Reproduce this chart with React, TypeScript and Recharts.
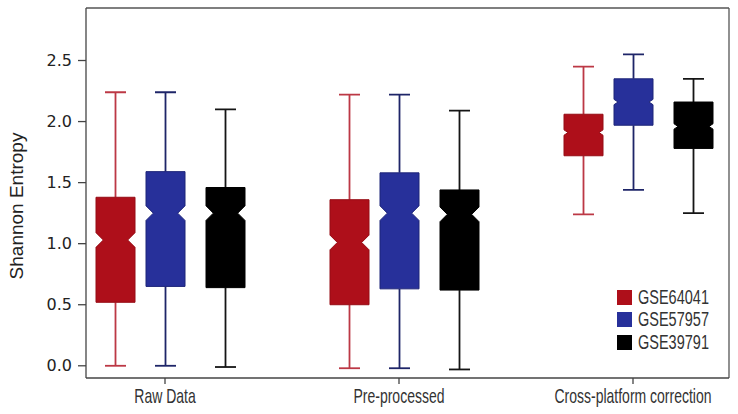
import React from 'react';
import { ComposedChart, Bar, XAxis, YAxis, Legend, CartesianGrid } from 'recharts';

const categories = ['Raw Data', 'Pre-processed', 'Cross-platform correction'];
const seriesNames = ['GSE64041', 'GSE57957', 'GSE39791'];

// box statistics per category (Raw, Pre-processed, Cross-platform)
const gse64041Min = [0.0, -0.02, 1.24];
const gse64041Q1 = [0.52, 0.5, 1.72];
const gse64041Median = [1.03, 1.01, 1.91];
const gse64041Q3 = [1.38, 1.36, 2.06];
const gse64041Max = [2.24, 2.22, 2.45];

const gse57957Min = [0.0, -0.02, 1.44];
const gse57957Q1 = [0.65, 0.63, 1.97];
const gse57957Median = [1.25, 1.25, 2.16];
const gse57957Q3 = [1.59, 1.58, 2.35];
const gse57957Max = [2.24, 2.22, 2.55];

const gse39791Min = [-0.01, -0.03, 1.25];
const gse39791Q1 = [0.64, 0.62, 1.78];
const gse39791Median = [1.25, 1.24, 1.96];
const gse39791Q3 = [1.46, 1.44, 2.16];
const gse39791Max = [2.1, 2.09, 2.35];

// half-height of the median notch
const notchSize = [0.06, 0.06, 0.022];

const yTicks = [0, 0.5, 1, 1.5, 2, 2.5];

const stats = (min: number[], q1: number[], med: number[], q3: number[], max: number[], i: number) => ({
  min: min[i],
  q1: q1[i],
  median: med[i],
  q3: q3[i],
  max: max[i],
  notch: notchSize[i],
});

const data = categories.map((name, i) => ({
  name,
  idx: i,
  s0: stats(gse64041Min, gse64041Q1, gse64041Median, gse64041Q3, gse64041Max, i),
  s1: stats(gse57957Min, gse57957Q1, gse57957Median, gse57957Q3, gse57957Max, i),
  s2: stats(gse39791Min, gse39791Q1, gse39791Median, gse39791Q3, gse39791Max, i),
}));

const series = [
  { key: 's0', fill: '#AE0F1A', stroke: '#960c15', whisker: '#BC3845', shift: 5 },
  { key: 's1', fill: '#27309A', stroke: '#1d2478', whisker: '#1E2568', shift: 0 },
  { key: 's2', fill: '#000000', stroke: '#000000', whisker: '#151515', shift: 5 },
];

const makeBoxShape = (key: string, fill: string, stroke: string, whisker: string, shift: number) =>
  (props: any) => {
    const { x, y, width, height, payload } = props;
    const st = payload[key];
    const toPx = (v: number) => y + ((st.max - v) / (st.max - st.min)) * height;
    const cx = x + width / 2 + shift;
    const half = width / 2;
    const cap = 10.5;
    const yMax = y;
    const yMin = y + height;
    const yQ3 = toPx(st.q3);
    const yQ1 = toPx(st.q1);
    const yMed = toPx(st.median);
    const nTop = toPx(st.median + st.notch);
    const nBot = toPx(st.median - st.notch);
    const depth = Math.max(4, (nBot - nTop) / 2);
    const l = cx - half;
    const r = cx + half;
    const path = `M${l},${yQ3} H${r} V${nTop} L${r - depth},${yMed} L${r},${nBot} V${yQ1} H${l} V${nBot} L${l + depth},${yMed} L${l},${nTop} Z`;
    return (
      <g>
        <line x1={cx} x2={cx} y1={yMax} y2={yQ3} stroke={whisker} strokeWidth={1.8} />
        <line x1={cx} x2={cx} y1={yQ1} y2={yMin} stroke={whisker} strokeWidth={1.8} />
        <line x1={cx - cap} x2={cx + cap} y1={yMax} y2={yMax} stroke={whisker} strokeWidth={1.8} />
        <line x1={cx - cap} x2={cx + cap} y1={yMin} y2={yMin} stroke={whisker} strokeWidth={1.8} />
        <path d={path} fill={fill} stroke={stroke} strokeWidth={1} />
      </g>
    );
  };

const XTick = (props: any) => {
  const { x, y, payload } = props;
  return (
    <text
      x={x}
      y={y}
      dy={11}
      textAnchor="middle"
      fontFamily="'Liberation Sans', Arial, sans-serif"
      fontSize={14}
      fill="#333"
      transform={`translate(${x},${y}) scale(1,1.4) translate(${-x},${-y})`}
    >
      {categories[payload.value]}
    </text>
  );
};

const LegendBox = (props: any) => {
  const items = [...(props.payload || [])].sort(
    (a: any, b: any) => seriesNames.indexOf(a.value) - seriesNames.indexOf(b.value)
  );
  return (
    <div style={{ fontFamily: "'Liberation Sans', Arial, sans-serif" }}>
      {items.map((it: any) => (
        <div key={it.value} style={{ display: 'flex', alignItems: 'center', height: 22.5 }}>
          <span style={{ width: 15, height: 15, background: it.color, display: 'inline-block' }} />
          <span
            style={{
              marginLeft: 6,
              fontSize: 14.5,
              color: '#333',
              display: 'inline-block',
              transform: 'scaleY(1.4)',
              lineHeight: '15px',
            }}
          >
            {it.value}
          </span>
        </div>
      ))}
    </div>
  );
};

export default function App() {
  return (
    <div style={{ position: 'absolute', left: 0, top: 0, background: '#fff' }}>
      <ComposedChart
        width={738}
        height={414}
        data={data}
        margin={{ top: 8, right: 9, bottom: 0, left: 0 }}
        barGap={16}
      >
        {/* top and right edges of the frame */}
        <CartesianGrid
          stroke="#555"
          strokeWidth={1.3}
          horizontalCoordinatesGenerator={({ offset }: any) => [offset.top]}
          verticalCoordinatesGenerator={({ offset }: any) => [offset.left + offset.width]}
        />
        <XAxis
          dataKey="idx"
          type="number"
          domain={[0, 2]}
          ticks={[0, 1, 2]}
          padding={{ left: 79, right: 96 }}
          height={36}
          tickSize={6}
          tickMargin={4}
          tick={<XTick />}
          axisLine={{ stroke: '#444', strokeWidth: 1.3 }}
          tickLine={{ stroke: '#444', strokeWidth: 1.3 }}
        />
        <YAxis
          type="number"
          domain={[-0.1, 2.93]}
          ticks={yTicks}
          width={86}
          tickSize={8}
          tickMargin={6}
          interval={0}
          allowDataOverflow
          tickFormatter={(v: number) => v.toFixed(1)}
          tick={{ fontFamily: "'DejaVu Sans', sans-serif", fontSize: 16, fill: '#222' }}
          axisLine={{ stroke: '#444', strokeWidth: 1.3 }}
          tickLine={{ stroke: '#444', strokeWidth: 1.3 }}
          label={{
            content: () => (
              <text
                x={16}
                y={206}
                transform="rotate(-90 16 206)"
                textAnchor="middle"
                dominantBaseline="central"
                fontFamily="'Liberation Sans', Arial, sans-serif"
                fontSize={19}
                fill="#222"
              >
                Shannon Entropy
              </text>
            ),
          }}
        />
        {series.map((s, i) => (
          <Bar
            key={s.key}
            name={seriesNames[i]}
            dataKey={(d: any) => [d[s.key].min, d[s.key].max]}
            fill={s.fill}
            barSize={39}
            isAnimationActive={false}
            shape={makeBoxShape(s.key, s.fill, s.stroke, s.whisker, s.shift)}
          />
        ))}
        <Legend
          layout="vertical"
          align="center"
          verticalAlign="middle"
          content={<LegendBox />}
          wrapperStyle={{ left: 617, top: 286, width: 'auto' }}
        />
      </ComposedChart>
    </div>
  );
}
